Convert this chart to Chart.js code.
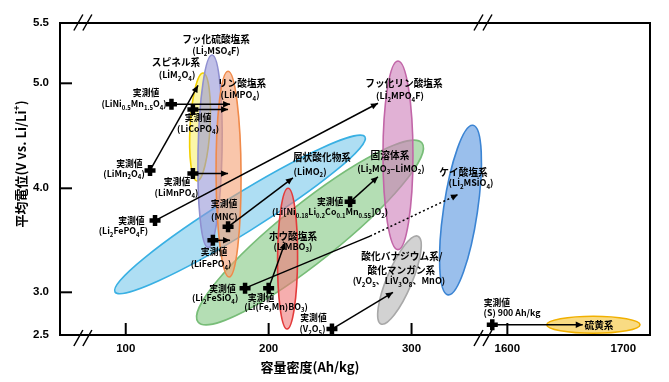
<!DOCTYPE html>
<html><head><meta charset="utf-8">
<script src="https://cdn.jsdelivr.net/npm/chart.js@4.4.1/dist/chart.umd.min.js"></script>
<style>html,body{margin:0;padding:0;background:#fff}#wrap{width:669px;height:382px;position:relative}</style>
</head><body><div id="wrap"><canvas id="c"></canvas></div>
<script>
// ---------------- DATA ----------------
const xTickValues = [100, 200, 300, 1600, 1700];
const yTickValues = [2.5, 3.0, 4.0, 5.0, 5.5];
const xMarkTicks = [100, 200, 300, 1600];
const yMarkTicks = [3.0, 4.0, 5.0];

// measured values (cross markers) and where their arrows point
const measuredNames    = ['LiNi0.5Mn1.5O4','LiCoPO4','LiMn2O4','LiMnPO4','Li2FePO4F','MNC','LiFePO4','Li2FeSiO4','Li(Fe,Mn)BO3','Li[Ni0.18Li0.2Co0.1Mn0.55]O2','V2O5','S'];
const measuredCapacity = [132, 147, 117, 147, 120.5, 171.6, 161, 183.5, 200, 257, 244.3, 1587];
const measuredVoltage  = [4.80, 4.75, 4.17, 4.14, 3.69, 3.63, 3.50, 3.04, 3.04, 3.87, 2.57, 2.62];
const targetCapacity   = [173, 171.6, 150.6, 171.6, 276.5, 217, 173, 332.5, 211.5, 276.5, 287, 1665];
const targetVoltage    = [4.80, 4.75, 4.98, 4.14, 4.81, 4.10, 3.50, 3.94, 3.48, 4.11, 3.00, 2.62];
// point where an arrow turns dotted (null = solid all the way)
const dottedFromCapacity = [null,null,null,null,null,null,null,271,null,null,null,null];
const dottedFromVoltage  = [null,null,null,null,null,null,null,3.54,null,null,null,null];

// material-family regions: ends of the long axis (capacity, voltage)
const regionNames = ['層状酸化物系','固溶体系','スピネル系','フッ化硫酸塩系','リン酸塩系','ホウ酸塩系','フッ化リン酸塩系','酸化バナジウム系/酸化マンガン系','ケイ酸塩系','硫黄系'];
const regionCapA  = [92.5, 150.6, 149.9, 157.6, 172.3, 212.9, 290.5, 278.6, 325.5, 1634];
const regionVoltA = [3.003, 2.652, 4.07, 3.43, 3.147, 2.57, 3.41, 2.63, 2.97, 2.62];
const regionCapB  = [267.4, 307.3, 154.1, 160.4, 171.6, 213.6, 290.5, 304.5, 343, 1714.4];
const regionVoltB = [4.49, 4.431, 5.085, 5.235, 5.10, 4.00, 5.185, 3.54, 4.60, 2.62];

// text annotations
const labelTexts = [
 'フッ化硫酸塩系','(Li_2MSO_4F)','スピネル系','(LiM_2O_4)','リン酸塩系','(LiMPO_4)',
 '実測値','(LiNi_{0.5}Mn_{1.5}O_4)','実測値','(LiCoPO_4)','実測値','(LiMn_2O_4)',
 '実測値','(LiMnPO_4)','実測値','(Li_2FePO_4F)','実測値','(MNC)','実測値','(LiFePO_4)',
 '実測値','(Li_2FeSiO_4)','実測値','(Li(Fe,Mn)BO_3)','実測値','(Li[Ni_{0.18}Li_{0.2}Co_{0.1}Mn_{0.55}]O_2)',
 '実測値','(V_2O_5)','実測値','(S) 900 Ah/kg','硫黄系',
 '層状酸化物系','(LiMO_2)','固溶体系','(Li_2MO_3–LiMO_2)','フッ化リン酸塩系','(Li_2MPO_4F)',
 'ケイ酸塩系','(Li_2MSiO_4)','ホウ酸塩系','(LiMBO_3)','酸化バナジウム系/','酸化マンガン系','(V_2O_5、LiV_3O_8、MnO)'
];
const labelCapacity = [
 163.2,163.2,135.2,135.9,181.4,180,
 114.2,105.8,150.6,150.6,102.6,98.8,
 135.9,135.5,104,98.4,168.8,169,161.8,159.7,
 167.7,162.5,194.7,205.2,243,243,
 231.4,230.7,1591,1604,1679,
 237.3,229,284.9,285.6,294.7,291.9,
 336.4,341.6,217,217,293.3,292.9,291.2
];
const labelVoltage = [
 5.367,5.27,5.17,5.07,5.0,4.89,
 4.91,4.80,4.67,4.57,4.23,4.14,
 4.06,3.96,3.69,3.59,3.85,3.73,3.39,3.27,
 3.03,2.93,2.93,2.83,3.87,3.77,
 2.70,2.57,2.875,2.76,2.61,
 4.29,4.16,4.31,4.19,5.0,4.88,
 4.155,4.05,3.54,3.44,3.34,3.21,3.11
];
const labelKinds = [
 'g','f','g','f','g','f',
 'm','m','m','m','m','m',
 'm','m','m','m','m','m','m','m',
 'm','m','m','m','m','m',
 'm','m','m','m','g',
 'g','f','g','f','g','f',
 'g','f','g','f','g','g','f'
];

// ---------------- STYLE ----------------
const regionFill = ['rgba(120,200,235,0.6)','rgba(130,200,130,0.6)','rgba(248,240,110,0.6)','rgba(150,150,215,0.6)',
  'rgba(245,160,115,0.6)','rgba(240,120,120,0.6)','rgba(205,125,185,0.6)','rgba(195,195,195,0.75)','rgba(120,170,230,0.75)','rgba(248,210,100,0.8)'];
const regionStroke = ['#39b0e3','#78bd78','#f2cf00','#8f8fd0','#f08a4a','#e33a3a','#c266a8','#a8a8a8','#3b84d3','#f1b000'];
const regionHalfWidth = [19, 29, 10, 12, 12.5, 10, 15, 12.5, 17, 8.5];
const labelSize = {g:9.7, f:9, m:8.8};
const CJK = '"Noto Sans CJK JP", "Noto Sans", sans-serif';

// ---------------- SCALE WITH BREAKS ----------------
const KNOTS = {
  x: [[54,0],[350,423/590],[1579,423/590],[1723,1]],
  y: [[2.5,0],[3.0,42.7/312],[4.0,146.7/312],[5.0,251.7/312],[5.5,1]]
};
class BrokenScale extends Chart.LinearScale {
  static id = 'broken';
  static defaults = Chart.LinearScale.defaults;
  _dec(v){
    const k = KNOTS[this.axis];
    let i = 0;
    while (i < k.length-2 && v > k[i+1][0]) i++;
    const [v0,f0] = k[i], [v1,f1] = k[i+1];
    return v1===v0 ? f0 : f0 + (v-v0)*(f1-f0)/(v1-v0);
  }
  getPixelForValue(v){ return this.getPixelForDecimal(this._dec(v)); }
  getValueForPixel(p){
    const d = this.getDecimalForPixel(p), k = KNOTS[this.axis];
    for (let i=0;i<k.length-1;i++){
      const [v0,f0]=k[i],[v1,f1]=k[i+1];
      if (d<=f1 && f1>f0) return v0+(d-f0)*(v1-v0)/(f1-f0);
    }
    return k[k.length-1][0];
  }
}
Chart.register(BrokenScale);

// ---------------- DRAW HELPERS ----------------
function parseRich(s){
  const out=[]; const re=/_\{([^}]*)\}|_(.)|\^\{([^}]*)\}|\^(.)|([^_^]+)/g; let m;
  while((m=re.exec(s))){
    if(m[1]!==undefined||m[2]!==undefined) out.push({t:m[1]??m[2],k:'sub'});
    else if(m[3]!==undefined||m[4]!==undefined) out.push({t:m[3]??m[4],k:'sup'});
    else out.push({t:m[5],k:'n'});
  }
  return out;
}
function drawRich(ctx,s,x,y,size,family){
  const segs=parseRich(s);
  const fN=`bold ${size}px ${family}`, fS=`bold ${(size*0.68).toFixed(1)}px ${family}`;
  let w=0; for(const g of segs){ctx.font=g.k==='n'?fN:fS; g.w=ctx.measureText(g.t).width; w+=g.w;}
  let cx=x-w/2; ctx.textAlign='left'; ctx.textBaseline='alphabetic';
  const base=y+size*0.36;
  for(const g of segs){
    ctx.font=g.k==='n'?fN:fS;
    const dy=g.k==='sub'?size*0.28:g.k==='sup'?-size*0.42:0;
    ctx.fillText(g.t,cx,base+dy); cx+=g.w;
  }
}
function arrowHead(ctx,x0,y0,x1,y1){
  const a=Math.atan2(y1-y0,x1-x0), L=7, W=3.2;
  ctx.beginPath(); ctx.moveTo(x1,y1);
  ctx.lineTo(x1-L*Math.cos(a)+W*Math.sin(a), y1-L*Math.sin(a)-W*Math.cos(a));
  ctx.lineTo(x1-L*Math.cos(a)-W*Math.sin(a), y1-L*Math.sin(a)+W*Math.cos(a));
  ctx.closePath(); ctx.fill();
}

const decor = {
  id:'decor',
  beforeDatasetsDraw(chart){
    const {ctx,scales:{x,y}}=chart;
    ctx.save();
    for(let i=0;i<regionNames.length;i++){
      const xa=x.getPixelForValue(regionCapA[i]), ya=y.getPixelForValue(regionVoltA[i]);
      const xb=x.getPixelForValue(regionCapB[i]), yb=y.getPixelForValue(regionVoltB[i]);
      const cx=(xa+xb)/2, cy=(ya+yb)/2, a=Math.hypot(xb-xa,yb-ya)/2, ang=Math.atan2(yb-ya,xb-xa);
      ctx.beginPath(); ctx.ellipse(cx,cy,a,regionHalfWidth[i],ang,0,Math.PI*2);
      ctx.fillStyle=regionFill[i]; ctx.fill();
      ctx.lineWidth=1.6; ctx.strokeStyle=regionStroke[i]; ctx.stroke();
    }
    // arrows
    ctx.strokeStyle='#000'; ctx.fillStyle='#000'; ctx.lineWidth=1.5;
    for(let i=0;i<measuredCapacity.length;i++){
      const x0=x.getPixelForValue(measuredCapacity[i]), y0=y.getPixelForValue(measuredVoltage[i]);
      const x1=x.getPixelForValue(targetCapacity[i]), y1=y.getPixelForValue(targetVoltage[i]);
      if(dottedFromCapacity[i]!==null){
        const xm=x.getPixelForValue(dottedFromCapacity[i]), ym=y.getPixelForValue(dottedFromVoltage[i]);
        ctx.setLineDash([]); ctx.beginPath(); ctx.moveTo(x0,y0); ctx.lineTo(xm,ym); ctx.stroke();
        ctx.setLineDash([2,2.5]); ctx.beginPath(); ctx.moveTo(xm,ym); ctx.lineTo(x1,y1); ctx.stroke();
        ctx.setLineDash([]); arrowHead(ctx,xm,ym,x1,y1);
      } else {
        ctx.beginPath(); ctx.moveTo(x0,y0); ctx.lineTo(x1,y1); ctx.stroke();
        arrowHead(ctx,x0,y0,x1,y1);
      }
    }
    ctx.restore();
  },
  afterDatasetsDraw(chart){
    const {ctx,chartArea:ca,scales:{x,y}}=chart;
    ctx.save();
    // labels
    ctx.fillStyle='#000';
    for(let i=0;i<labelTexts.length;i++){
      const px=x.getPixelForValue(labelCapacity[i]), py=y.getPixelForValue(labelVoltage[i]);
      drawRich(ctx,labelTexts[i],px,py,labelSize[labelKinds[i]],CJK);
    }
    // frame
    ctx.strokeStyle='#000'; ctx.lineWidth=2;
    ctx.strokeRect(ca.left,ca.top,ca.right-ca.left,ca.bottom-ca.top);
    // inward tick marks
    ctx.lineWidth=2;
    for(const v of xMarkTicks){const p=x.getPixelForValue(v); ctx.beginPath(); ctx.moveTo(p,ca.bottom); ctx.lineTo(p,ca.bottom-12); ctx.stroke();}
    for(const v of yMarkTicks){const p=y.getPixelForValue(v); ctx.beginPath(); ctx.moveTo(ca.left,p); ctx.lineTo(ca.left+12,p); ctx.stroke();}
    // axis breaks
    ctx.lineWidth=1.5;
    const brk=[x.getPixelForValue(70), x.getPixelForValue(350)];
    for(const bx of brk){
      for(const by of [ca.top-0.5, ca.bottom+3]){
        for(const off of [-4.5,4.5]){
          ctx.beginPath(); ctx.moveTo(bx+off-4.5,by+8); ctx.lineTo(bx+off+4.5,by-8); ctx.stroke();
        }
      }
    }
    // axis titles
    ctx.fillStyle='#000';
    drawRich(ctx,'容量密度(Ah/kg)',310,367,13,CJK);
    ctx.translate(21,164); ctx.rotate(-Math.PI/2);
    drawRich(ctx,'平均電位(V vs. Li/Li^+)',0,0,13,CJK);
    ctx.restore();
  }
};

new Chart(document.getElementById('c'),{
  type:'scatter',
  data:{datasets:[{
    label:'実測値',
    data:measuredCapacity.map((c,i)=>({x:c,y:measuredVoltage[i]})),
    pointStyle:'cross', radius:5.5, borderWidth:4.5, borderColor:'#000', backgroundColor:'#000',
    hoverRadius:5.5
  }]},
  options:{
    responsive:true, maintainAspectRatio:false, animation:false,
    layout:{padding:{left:0,top:23,right:19,bottom:0}},
    plugins:{legend:{display:false},tooltip:{enabled:false}},
    events:[],
    scales:{
      x:{type:'broken',position:'bottom',min:54,max:1723,
        grid:{display:false,drawTicks:false},border:{display:false},
        afterBuildTicks:s=>{s.ticks=xTickValues.map(v=>({value:v}));},
        afterFit:s=>{s.height=47;},
        ticks:{autoSkip:false,maxRotation:0,padding:7,color:'#000',
          font:{family:'"Liberation Sans", Arial, sans-serif',size:11.5,weight:'bold'},
          callback:v=>String(v)}},
      y:{type:'broken',position:'left',min:2.5,max:5.5,
        grid:{display:false,drawTicks:false},border:{display:false},
        afterBuildTicks:s=>{s.ticks=yTickValues.map(v=>({value:v}));},
        afterFit:s=>{s.width=60;},
        ticks:{autoSkip:false,padding:11,color:'#000',
          font:{family:'"Liberation Sans", Arial, sans-serif',size:11.5,weight:'bold'},
          callback:v=>Number(v).toFixed(1)}}
    }
  },
  plugins:[decor]
});
</script></body></html>
